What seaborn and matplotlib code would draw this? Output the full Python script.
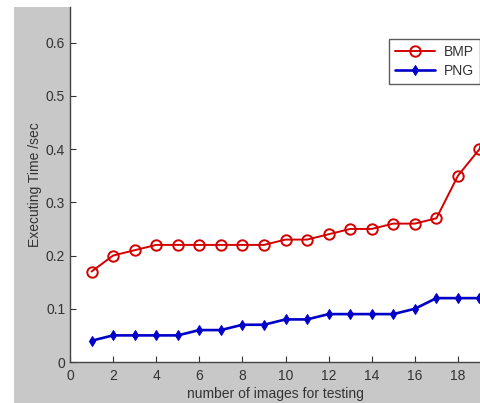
import matplotlib
matplotlib.use("Agg")
import matplotlib.pyplot as plt
import seaborn as sns
import pandas as pd
from matplotlib.patches import Rectangle

# images tested (x axis)
n_images = list(range(1, 21))
bmp_time = [0.17, 0.20, 0.21, 0.22, 0.22, 0.22, 0.22, 0.22, 0.22, 0.23,
            0.23, 0.24, 0.25, 0.25, 0.26, 0.26, 0.27, 0.35, 0.40, 0.55]
png_time = [0.04, 0.05, 0.05, 0.05, 0.05, 0.06, 0.06, 0.07, 0.07, 0.08,
            0.08, 0.09, 0.09, 0.09, 0.09, 0.10, 0.12, 0.12, 0.12, 0.12]
x_ticks = list(range(0, 20, 2))
y_ticks = [0, 0.1, 0.2, 0.3, 0.4, 0.5, 0.6]

df = pd.DataFrame({"n": n_images, "BMP": bmp_time, "PNG": png_time})

sns.set_style("white")
plt.rcParams['font.family'] = ['Liberation Sans', 'DejaVu Sans']

fig = plt.figure(figsize=(4.81, 4.03), dpi=100)
fig.patch.set_facecolor("white")
# matlab-like gray frame around the axes
fig.patches.append(Rectangle((14 / 481, 0), 1, 1 - 7 / 403, transform=fig.transFigure,
                             facecolor="#c8c8c8", edgecolor="none", zorder=-5))
ax = fig.add_axes([70 / 481, 1 - 362 / 403, 1 - 70 / 481, (362 - 7) / 403])
ax.set_facecolor("white")

sns.lineplot(data=df, x="n", y="BMP", ax=ax, color="#d40000", marker="o",
             markersize=7.5, markerfacecolor="none", markeredgecolor="#d40000",
             markeredgewidth=1.4, linewidth=1.4, label="BMP")
sns.lineplot(data=df, x="n", y="PNG", ax=ax, color="#0000c8", marker="d",
             markersize=5, markeredgecolor="#0000c8", linewidth=1.9, label="PNG")

ax.set_xlim(0, 19.07)
ax.set_ylim(0, 0.667)
ax.set_xticks(x_ticks)
ax.set_yticks(y_ticks)
ax.set_yticklabels(["0", "0.1", "0.2", "0.3", "0.4", "0.5", "0.6"])
ax.tick_params(direction="in", length=4, labelsize=10, colors="#333333",
               left=True, bottom=True)
ax.tick_params(axis="x", pad=5)
for s in ["top", "right"]:
    ax.spines[s].set_visible(False)
for s in ["left", "bottom"]:
    ax.spines[s].set_color("#444444")
    ax.spines[s].set_linewidth(1)

ax.set_xlabel("number of images for testing", fontsize=10, color="#333333", labelpad=3)
ax.set_ylabel("Executing Time /sec", fontsize=10, color="#333333", labelpad=3)

leg = ax.legend(loc="upper right", bbox_to_anchor=(0.9976, 0.91), fontsize=10,
                frameon=True, fancybox=False, handlelength=2.9, borderpad=0.45,
                labelspacing=0.35, handletextpad=0.6, borderaxespad=0)
leg.get_frame().set_edgecolor("#333333")
leg.get_frame().set_linewidth(1)
for t in leg.get_texts():
    t.set_color("#333333")

fig.savefig("out.png", dpi=100)
